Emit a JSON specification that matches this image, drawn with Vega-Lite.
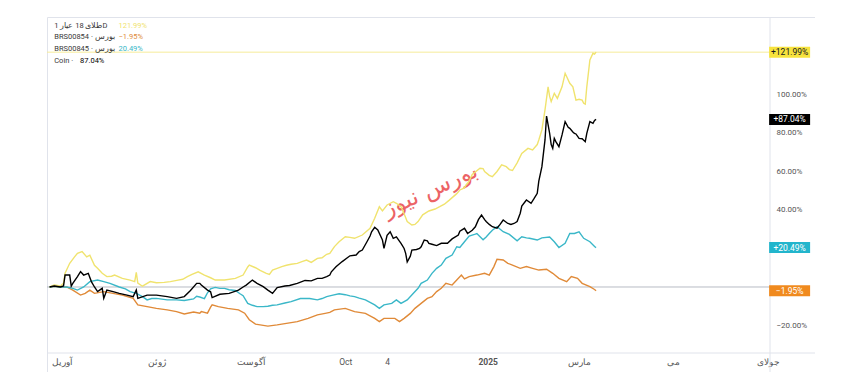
{
  "$schema": "https://vega.github.io/schema/vega-lite/v6.json",
  "width": 768,
  "height": 355,
  "autosize": {"type": "none"},
  "padding": {"left": 47, "top": 17, "right": 0, "bottom": 0},
  "background": "#ffffff",
  "config": {"view": {"stroke": "#e0e3eb", "strokeWidth": 1}, "font": "Roboto"},
  "datasets": {
    "prices": [
      {"date":"2024-03-24","key":"gold","value":0},{"date":"2024-03-27","key":"gold","value":1.0},{"date":"2024-03-31","key":"gold","value":0.5},{"date":"2024-04-02","key":"gold","value":2},{"date":"2024-04-03","key":"gold","value":7.1},{"date":"2024-04-06","key":"gold","value":12.3},{"date":"2024-04-09","key":"gold","value":15.5},{"date":"2024-04-11","key":"gold","value":17.5},{"date":"2024-04-14","key":"gold","value":18.4},{"date":"2024-04-17","key":"gold","value":15.6},{"date":"2024-04-19","key":"gold","value":16.5},{"date":"2024-04-22","key":"gold","value":11.3},{"date":"2024-04-24","key":"gold","value":9.7},{"date":"2024-04-27","key":"gold","value":7.1},{"date":"2024-04-30","key":"gold","value":5.4},{"date":"2024-05-03","key":"gold","value":5.6},{"date":"2024-05-05","key":"gold","value":6.2},{"date":"2024-05-10","key":"gold","value":4.5},{"date":"2024-05-15","key":"gold","value":3.6},{"date":"2024-05-18","key":"gold","value":2.8},{"date":"2024-05-19","key":"gold","value":7.6},{"date":"2024-05-20","key":"gold","value":2.0},{"date":"2024-05-23","key":"gold","value":0.4},{"date":"2024-05-28","key":"gold","value":2.8},{"date":"2024-06-01","key":"gold","value":2.2},{"date":"2024-06-06","key":"gold","value":2.4},{"date":"2024-06-10","key":"gold","value":2.8},{"date":"2024-06-15","key":"gold","value":3.6},{"date":"2024-06-18","key":"gold","value":4.0},{"date":"2024-06-21","key":"gold","value":5.4},{"date":"2024-06-24","key":"gold","value":6.5},{"date":"2024-06-28","key":"gold","value":7.9},{"date":"2024-07-02","key":"gold","value":6.2},{"date":"2024-07-06","key":"gold","value":4.8},{"date":"2024-07-09","key":"gold","value":3.6},{"date":"2024-07-15","key":"gold","value":3.6},{"date":"2024-07-22","key":"gold","value":4.5},{"date":"2024-07-27","key":"gold","value":6.2},{"date":"2024-07-30","key":"gold","value":10.4},{"date":"2024-07-31","key":"gold","value":11.4},{"date":"2024-08-04","key":"gold","value":10.0},{"date":"2024-08-07","key":"gold","value":8.6},{"date":"2024-08-11","key":"gold","value":7.1},{"date":"2024-08-13","key":"gold","value":6.5},{"date":"2024-08-15","key":"gold","value":8.8},{"date":"2024-08-18","key":"gold","value":9.7},{"date":"2024-08-21","key":"gold","value":10.6},{"date":"2024-08-24","key":"gold","value":11.3},{"date":"2024-08-27","key":"gold","value":11.8},{"date":"2024-08-31","key":"gold","value":12.3},{"date":"2024-09-03","key":"gold","value":13.2},{"date":"2024-09-06","key":"gold","value":14.0},{"date":"2024-09-09","key":"gold","value":12.8},{"date":"2024-09-13","key":"gold","value":14.9},{"date":"2024-09-16","key":"gold","value":15.2},{"date":"2024-09-19","key":"gold","value":17.0},{"date":"2024-09-21","key":"gold","value":17.5},{"date":"2024-09-24","key":"gold","value":21.0},{"date":"2024-09-27","key":"gold","value":23.5},{"date":"2024-10-01","key":"gold","value":26.1},{"date":"2024-10-04","key":"gold","value":25.8},{"date":"2024-10-07","key":"gold","value":25.3},{"date":"2024-10-12","key":"gold","value":27.0},{"date":"2024-10-17","key":"gold","value":30.5},{"date":"2024-10-20","key":"gold","value":35.7},{"date":"2024-10-23","key":"gold","value":41.7},{"date":"2024-10-25","key":"gold","value":39.5},{"date":"2024-10-28","key":"gold","value":42.6},{"date":"2024-11-01","key":"gold","value":44.3},{"date":"2024-11-03","key":"gold","value":43.5},{"date":"2024-11-06","key":"gold","value":41.7},{"date":"2024-11-08","key":"gold","value":38.0},{"date":"2024-11-10","key":"gold","value":34.0},{"date":"2024-11-13","key":"gold","value":32.2},{"date":"2024-11-15","key":"gold","value":32.5},{"date":"2024-11-17","key":"gold","value":34.0},{"date":"2024-11-20","key":"gold","value":37.5},{"date":"2024-11-24","key":"gold","value":39.5},{"date":"2024-11-28","key":"gold","value":40.5},{"date":"2024-12-01","key":"gold","value":41.7},{"date":"2024-12-04","key":"gold","value":43.0},{"date":"2024-12-07","key":"gold","value":45.0},{"date":"2024-12-12","key":"gold","value":48.5},{"date":"2024-12-14","key":"gold","value":50.4},{"date":"2024-12-17","key":"gold","value":51.5},{"date":"2024-12-18","key":"gold","value":53.0},{"date":"2024-12-20","key":"gold","value":55.0},{"date":"2024-12-22","key":"gold","value":58.5},{"date":"2024-12-27","key":"gold","value":61.7},{"date":"2024-12-29","key":"gold","value":61.5},{"date":"2024-12-30","key":"gold","value":60.0},{"date":"2025-01-02","key":"gold","value":58.0},{"date":"2025-01-04","key":"gold","value":57.3},{"date":"2025-01-07","key":"gold","value":60.0},{"date":"2025-01-10","key":"gold","value":63.4},{"date":"2025-01-13","key":"gold","value":62.5},{"date":"2025-01-15","key":"gold","value":61.0},{"date":"2025-01-17","key":"gold","value":60.5},{"date":"2025-01-20","key":"gold","value":64.5},{"date":"2025-01-23","key":"gold","value":69.4},{"date":"2025-01-27","key":"gold","value":72.0},{"date":"2025-01-30","key":"gold","value":71.2},{"date":"2025-02-02","key":"gold","value":74.0},{"date":"2025-02-03","key":"gold","value":76.4},{"date":"2025-02-05","key":"gold","value":81.6},{"date":"2025-02-07","key":"gold","value":92.0},{"date":"2025-02-09","key":"gold","value":104.0},{"date":"2025-02-10","key":"gold","value":99.0},{"date":"2025-02-11","key":"gold","value":96.3},{"date":"2025-02-13","key":"gold","value":100.6},{"date":"2025-02-15","key":"gold","value":98.0},{"date":"2025-02-18","key":"gold","value":104.0},{"date":"2025-02-20","key":"gold","value":111.0},{"date":"2025-02-23","key":"gold","value":105.8},{"date":"2025-02-25","key":"gold","value":104.0},{"date":"2025-02-27","key":"gold","value":97.1},{"date":"2025-03-01","key":"gold","value":97.5},{"date":"2025-03-03","key":"gold","value":97.1},{"date":"2025-03-04","key":"gold","value":95.4},{"date":"2025-03-05","key":"gold","value":95.0},{"date":"2025-03-06","key":"gold","value":104.0},{"date":"2025-03-08","key":"gold","value":117.9},{"date":"2025-03-10","key":"gold","value":121.4},{"date":"2025-03-11","key":"gold","value":121.0},{"date":"2025-03-12","key":"gold","value":121.99},

      {"date":"2024-03-24","key":"BRS00854","value":0},{"date":"2024-03-27","key":"BRS00854","value":0.3},{"date":"2024-03-31","key":"BRS00854","value":0},{"date":"2024-04-04","key":"BRS00854","value":0},{"date":"2024-04-08","key":"BRS00854","value":-1.6},{"date":"2024-04-13","key":"BRS00854","value":-4.2},{"date":"2024-04-16","key":"BRS00854","value":-3.3},{"date":"2024-04-19","key":"BRS00854","value":-1.6},{"date":"2024-04-22","key":"BRS00854","value":-3.3},{"date":"2024-04-28","key":"BRS00854","value":-2.4},{"date":"2024-05-04","key":"BRS00854","value":-3.3},{"date":"2024-05-10","key":"BRS00854","value":-4.2},{"date":"2024-05-17","key":"BRS00854","value":-5.9},{"date":"2024-05-20","key":"BRS00854","value":-9.3},{"date":"2024-05-26","key":"BRS00854","value":-10.2},{"date":"2024-06-01","key":"BRS00854","value":-11.1},{"date":"2024-06-08","key":"BRS00854","value":-11.9},{"date":"2024-06-14","key":"BRS00854","value":-12.8},{"date":"2024-06-19","key":"BRS00854","value":-14.0},{"date":"2024-06-25","key":"BRS00854","value":-13.0},{"date":"2024-06-29","key":"BRS00854","value":-13.6},{"date":"2024-06-30","key":"BRS00854","value":-12.8},{"date":"2024-07-04","key":"BRS00854","value":-13.6},{"date":"2024-07-06","key":"BRS00854","value":-10.5},{"date":"2024-07-07","key":"BRS00854","value":-9.3},{"date":"2024-07-11","key":"BRS00854","value":-10.2},{"date":"2024-07-17","key":"BRS00854","value":-11.1},{"date":"2024-07-24","key":"BRS00854","value":-11.9},{"date":"2024-07-28","key":"BRS00854","value":-13.6},{"date":"2024-07-31","key":"BRS00854","value":-17.0},{"date":"2024-08-04","key":"BRS00854","value":-19.3},{"date":"2024-08-07","key":"BRS00854","value":-19.7},{"date":"2024-08-12","key":"BRS00854","value":-20.3},{"date":"2024-08-18","key":"BRS00854","value":-19.7},{"date":"2024-08-25","key":"BRS00854","value":-18.8},{"date":"2024-08-31","key":"BRS00854","value":-18.0},{"date":"2024-09-07","key":"BRS00854","value":-16.3},{"date":"2024-09-13","key":"BRS00854","value":-14.5},{"date":"2024-09-18","key":"BRS00854","value":-13.7},{"date":"2024-09-21","key":"BRS00854","value":-13.2},{"date":"2024-09-24","key":"BRS00854","value":-11.9},{"date":"2024-10-01","key":"BRS00854","value":-11.1},{"date":"2024-10-07","key":"BRS00854","value":-12.8},{"date":"2024-10-14","key":"BRS00854","value":-13.7},{"date":"2024-10-20","key":"BRS00854","value":-16.3},{"date":"2024-10-23","key":"BRS00854","value":-18.0},{"date":"2024-10-26","key":"BRS00854","value":-16.3},{"date":"2024-11-02","key":"BRS00854","value":-16.3},{"date":"2024-11-05","key":"BRS00854","value":-18.0},{"date":"2024-11-08","key":"BRS00854","value":-16.3},{"date":"2024-11-12","key":"BRS00854","value":-13.7},{"date":"2024-11-15","key":"BRS00854","value":-11.1},{"date":"2024-11-19","key":"BRS00854","value":-8.5},{"date":"2024-11-23","key":"BRS00854","value":-5.9},{"date":"2024-11-26","key":"BRS00854","value":-5.0},{"date":"2024-11-29","key":"BRS00854","value":-2.4},{"date":"2024-12-02","key":"BRS00854","value":-0.7},{"date":"2024-12-05","key":"BRS00854","value":1.9},{"date":"2024-12-09","key":"BRS00854","value":1.0},{"date":"2024-12-12","key":"BRS00854","value":3.6},{"date":"2024-12-15","key":"BRS00854","value":6.2},{"date":"2024-12-17","key":"BRS00854","value":4.2},{"date":"2024-12-20","key":"BRS00854","value":5.4},{"date":"2024-12-25","key":"BRS00854","value":6.2},{"date":"2024-12-30","key":"BRS00854","value":7.1},{"date":"2025-01-02","key":"BRS00854","value":6.2},{"date":"2025-01-05","key":"BRS00854","value":10.6},{"date":"2025-01-07","key":"BRS00854","value":14.4},{"date":"2025-01-11","key":"BRS00854","value":14.0},{"date":"2025-01-14","key":"BRS00854","value":12.3},{"date":"2025-01-17","key":"BRS00854","value":11.4},{"date":"2025-01-22","key":"BRS00854","value":9.7},{"date":"2025-01-26","key":"BRS00854","value":10.6},{"date":"2025-01-30","key":"BRS00854","value":9.7},{"date":"2025-02-03","key":"BRS00854","value":8.8},{"date":"2025-02-08","key":"BRS00854","value":9.2},{"date":"2025-02-12","key":"BRS00854","value":7.1},{"date":"2025-02-16","key":"BRS00854","value":4.5},{"date":"2025-02-21","key":"BRS00854","value":2.8},{"date":"2025-02-24","key":"BRS00854","value":5.4},{"date":"2025-02-28","key":"BRS00854","value":4.5},{"date":"2025-03-03","key":"BRS00854","value":1.9},{"date":"2025-03-08","key":"BRS00854","value":0.2},{"date":"2025-03-11","key":"BRS00854","value":-1.3},{"date":"2025-03-12","key":"BRS00854","value":-1.95},

      {"date":"2024-03-24","key":"BRS00845","value":0},{"date":"2024-03-27","key":"BRS00845","value":0.3},{"date":"2024-03-31","key":"BRS00845","value":0},{"date":"2024-04-04","key":"BRS00845","value":0},{"date":"2024-04-08","key":"BRS00845","value":-0.7},{"date":"2024-04-11","key":"BRS00845","value":-1.6},{"date":"2024-04-15","key":"BRS00845","value":0},{"date":"2024-04-19","key":"BRS00845","value":2.8},{"date":"2024-04-24","key":"BRS00845","value":3.6},{"date":"2024-04-28","key":"BRS00845","value":2.8},{"date":"2024-05-02","key":"BRS00845","value":1.9},{"date":"2024-05-08","key":"BRS00845","value":0},{"date":"2024-05-12","key":"BRS00845","value":-1.0},{"date":"2024-05-15","key":"BRS00845","value":-2.4},{"date":"2024-05-19","key":"BRS00845","value":-3.3},{"date":"2024-05-23","key":"BRS00845","value":-5.0},{"date":"2024-05-26","key":"BRS00845","value":-6.7},{"date":"2024-05-29","key":"BRS00845","value":-6.0},{"date":"2024-06-01","key":"BRS00845","value":-5.9},{"date":"2024-06-08","key":"BRS00845","value":-6.7},{"date":"2024-06-14","key":"BRS00845","value":-6.7},{"date":"2024-06-19","key":"BRS00845","value":-7.0},{"date":"2024-06-25","key":"BRS00845","value":-6.2},{"date":"2024-06-27","key":"BRS00845","value":-4.8},{"date":"2024-06-29","key":"BRS00845","value":-5.2},{"date":"2024-07-02","key":"BRS00845","value":-6.0},{"date":"2024-07-04","key":"BRS00845","value":-3.0},{"date":"2024-07-06","key":"BRS00845","value":-1.0},{"date":"2024-07-09","key":"BRS00845","value":-0.2},{"date":"2024-07-12","key":"BRS00845","value":-0.7},{"date":"2024-07-15","key":"BRS00845","value":-0.7},{"date":"2024-07-18","key":"BRS00845","value":-1.4},{"date":"2024-07-22","key":"BRS00845","value":-1.8},{"date":"2024-07-25","key":"BRS00845","value":-3.5},{"date":"2024-07-27","key":"BRS00845","value":-4.5},{"date":"2024-07-30","key":"BRS00845","value":-8.5},{"date":"2024-08-02","key":"BRS00845","value":-9.5},{"date":"2024-08-05","key":"BRS00845","value":-10.2},{"date":"2024-08-09","key":"BRS00845","value":-10.2},{"date":"2024-08-12","key":"BRS00845","value":-10.0},{"date":"2024-08-15","key":"BRS00845","value":-9.5},{"date":"2024-08-18","key":"BRS00845","value":-9.3},{"date":"2024-08-23","key":"BRS00845","value":-8.3},{"date":"2024-08-27","key":"BRS00845","value":-7.6},{"date":"2024-09-02","key":"BRS00845","value":-6.0},{"date":"2024-09-05","key":"BRS00845","value":-5.9},{"date":"2024-09-08","key":"BRS00845","value":-6.0},{"date":"2024-09-13","key":"BRS00845","value":-6.7},{"date":"2024-09-16","key":"BRS00845","value":-6.0},{"date":"2024-09-19","key":"BRS00845","value":-5.0},{"date":"2024-09-23","key":"BRS00845","value":-4.2},{"date":"2024-09-27","key":"BRS00845","value":-3.5},{"date":"2024-10-01","key":"BRS00845","value":-4.0},{"date":"2024-10-04","key":"BRS00845","value":-4.6},{"date":"2024-10-07","key":"BRS00845","value":-5.0},{"date":"2024-10-10","key":"BRS00845","value":-5.8},{"date":"2024-10-14","key":"BRS00845","value":-6.7},{"date":"2024-10-17","key":"BRS00845","value":-8.0},{"date":"2024-10-20","key":"BRS00845","value":-9.3},{"date":"2024-10-23","key":"BRS00845","value":-11.1},{"date":"2024-10-26","key":"BRS00845","value":-9.3},{"date":"2024-10-31","key":"BRS00845","value":-8.5},{"date":"2024-11-03","key":"BRS00845","value":-6.7},{"date":"2024-11-06","key":"BRS00845","value":-8.5},{"date":"2024-11-10","key":"BRS00845","value":-6.7},{"date":"2024-11-14","key":"BRS00845","value":-3.3},{"date":"2024-11-17","key":"BRS00845","value":-0.7},{"date":"2024-11-19","key":"BRS00845","value":1.9},{"date":"2024-11-23","key":"BRS00845","value":3.6},{"date":"2024-11-26","key":"BRS00845","value":7.1},{"date":"2024-11-29","key":"BRS00845","value":9.7},{"date":"2024-12-02","key":"BRS00845","value":11.4},{"date":"2024-12-05","key":"BRS00845","value":14.9},{"date":"2024-12-09","key":"BRS00845","value":16.6},{"date":"2024-12-12","key":"BRS00845","value":20.9},{"date":"2024-12-14","key":"BRS00845","value":20.5},{"date":"2024-12-17","key":"BRS00845","value":23.5},{"date":"2024-12-20","key":"BRS00845","value":26.5},{"date":"2024-12-24","key":"BRS00845","value":27.5},{"date":"2024-12-25","key":"BRS00845","value":27.8},{"date":"2024-12-29","key":"BRS00845","value":24.5},{"date":"2024-12-31","key":"BRS00845","value":26.0},{"date":"2025-01-02","key":"BRS00845","value":27.8},{"date":"2025-01-04","key":"BRS00845","value":29.5},{"date":"2025-01-07","key":"BRS00845","value":31.3},{"date":"2025-01-11","key":"BRS00845","value":28.7},{"date":"2025-01-15","key":"BRS00845","value":27.3},{"date":"2025-01-20","key":"BRS00845","value":24.0},{"date":"2025-01-23","key":"BRS00845","value":26.1},{"date":"2025-01-26","key":"BRS00845","value":25.5},{"date":"2025-01-28","key":"BRS00845","value":25.3},{"date":"2025-02-02","key":"BRS00845","value":24.4},{"date":"2025-02-05","key":"BRS00845","value":25.5},{"date":"2025-02-10","key":"BRS00845","value":26.0},{"date":"2025-02-13","key":"BRS00845","value":23.5},{"date":"2025-02-16","key":"BRS00845","value":20.5},{"date":"2025-02-20","key":"BRS00845","value":22.7},{"date":"2025-02-23","key":"BRS00845","value":27.8},{"date":"2025-02-26","key":"BRS00845","value":27.8},{"date":"2025-03-01","key":"BRS00845","value":28.7},{"date":"2025-03-04","key":"BRS00845","value":25.3},{"date":"2025-03-08","key":"BRS00845","value":23.5},{"date":"2025-03-11","key":"BRS00845","value":21.0},{"date":"2025-03-12","key":"BRS00845","value":20.49},

      {"date":"2024-03-24","key":"Coin","value":0},{"date":"2024-03-27","key":"Coin","value":0.5},{"date":"2024-03-31","key":"Coin","value":0},{"date":"2024-04-02","key":"Coin","value":0.5},{"date":"2024-04-03","key":"Coin","value":6.2},{"date":"2024-04-06","key":"Coin","value":6.2},{"date":"2024-04-07","key":"Coin","value":0.5},{"date":"2024-04-08","key":"Coin","value":1.9},{"date":"2024-04-11","key":"Coin","value":5.4},{"date":"2024-04-13","key":"Coin","value":8.0},{"date":"2024-04-15","key":"Coin","value":6.2},{"date":"2024-04-18","key":"Coin","value":7.1},{"date":"2024-04-20","key":"Coin","value":2.8},{"date":"2024-04-22","key":"Coin","value":0},{"date":"2024-04-24","key":"Coin","value":-2.4},{"date":"2024-04-27","key":"Coin","value":-0.7},{"date":"2024-04-28","key":"Coin","value":-5.9},{"date":"2024-04-30","key":"Coin","value":-1.6},{"date":"2024-05-04","key":"Coin","value":-2.4},{"date":"2024-05-08","key":"Coin","value":-3.3},{"date":"2024-05-13","key":"Coin","value":-4.2},{"date":"2024-05-17","key":"Coin","value":-5.0},{"date":"2024-05-19","key":"Coin","value":-1.6},{"date":"2024-05-20","key":"Coin","value":-5.9},{"date":"2024-05-26","key":"Coin","value":-4.2},{"date":"2024-06-01","key":"Coin","value":-4.2},{"date":"2024-06-08","key":"Coin","value":-5.0},{"date":"2024-06-14","key":"Coin","value":-5.9},{"date":"2024-06-19","key":"Coin","value":-5.0},{"date":"2024-06-23","key":"Coin","value":-1.8},{"date":"2024-06-27","key":"Coin","value":1.9},{"date":"2024-06-29","key":"Coin","value":1.9},{"date":"2024-06-30","key":"Coin","value":1.0},{"date":"2024-07-04","key":"Coin","value":-1.6},{"date":"2024-07-06","key":"Coin","value":-2.5},{"date":"2024-07-07","key":"Coin","value":-5.5},{"date":"2024-07-12","key":"Coin","value":-3.8},{"date":"2024-07-18","key":"Coin","value":-3.3},{"date":"2024-07-24","key":"Coin","value":-1.6},{"date":"2024-07-27","key":"Coin","value":0},{"date":"2024-07-29","key":"Coin","value":1.0},{"date":"2024-08-02","key":"Coin","value":3.6},{"date":"2024-08-05","key":"Coin","value":1.9},{"date":"2024-08-09","key":"Coin","value":0.2},{"date":"2024-08-12","key":"Coin","value":-1.6},{"date":"2024-08-15","key":"Coin","value":-3.3},{"date":"2024-08-18","key":"Coin","value":-0.3},{"date":"2024-08-23","key":"Coin","value":0.5},{"date":"2024-08-26","key":"Coin","value":0.8},{"date":"2024-08-31","key":"Coin","value":1.9},{"date":"2024-09-05","key":"Coin","value":3.4},{"date":"2024-09-09","key":"Coin","value":3.2},{"date":"2024-09-13","key":"Coin","value":4.5},{"date":"2024-09-16","key":"Coin","value":4.5},{"date":"2024-09-19","key":"Coin","value":5.4},{"date":"2024-09-21","key":"Coin","value":6.2},{"date":"2024-09-22","key":"Coin","value":7.9},{"date":"2024-09-25","key":"Coin","value":10.5},{"date":"2024-09-29","key":"Coin","value":13.2},{"date":"2024-10-04","key":"Coin","value":16.2},{"date":"2024-10-08","key":"Coin","value":16.6},{"date":"2024-10-10","key":"Coin","value":18.4},{"date":"2024-10-12","key":"Coin","value":19.2},{"date":"2024-10-15","key":"Coin","value":23.5},{"date":"2024-10-17","key":"Coin","value":26.5},{"date":"2024-10-18","key":"Coin","value":28.7},{"date":"2024-10-20","key":"Coin","value":31.0},{"date":"2024-10-22","key":"Coin","value":29.6},{"date":"2024-10-25","key":"Coin","value":24.4},{"date":"2024-10-26","key":"Coin","value":20.1},{"date":"2024-10-28","key":"Coin","value":26.8},{"date":"2024-10-30","key":"Coin","value":28.7},{"date":"2024-11-01","key":"Coin","value":25.3},{"date":"2024-11-03","key":"Coin","value":26.0},{"date":"2024-11-06","key":"Coin","value":22.7},{"date":"2024-11-08","key":"Coin","value":20.0},{"date":"2024-11-09","key":"Coin","value":17.5},{"date":"2024-11-10","key":"Coin","value":13.0},{"date":"2024-11-12","key":"Coin","value":16.0},{"date":"2024-11-13","key":"Coin","value":19.2},{"date":"2024-11-16","key":"Coin","value":19.5},{"date":"2024-11-18","key":"Coin","value":20.1},{"date":"2024-11-19","key":"Coin","value":20.9},{"date":"2024-11-21","key":"Coin","value":24.4},{"date":"2024-11-23","key":"Coin","value":24.0},{"date":"2024-11-24","key":"Coin","value":22.7},{"date":"2024-11-26","key":"Coin","value":22.2},{"date":"2024-11-29","key":"Coin","value":21.5},{"date":"2024-12-02","key":"Coin","value":22.7},{"date":"2024-12-06","key":"Coin","value":22.7},{"date":"2024-12-09","key":"Coin","value":25.0},{"date":"2024-12-13","key":"Coin","value":27.0},{"date":"2024-12-14","key":"Coin","value":29.0},{"date":"2024-12-17","key":"Coin","value":30.5},{"date":"2024-12-19","key":"Coin","value":27.8},{"date":"2024-12-22","key":"Coin","value":29.5},{"date":"2024-12-24","key":"Coin","value":31.3},{"date":"2024-12-26","key":"Coin","value":35.0},{"date":"2024-12-28","key":"Coin","value":37.4},{"date":"2024-12-30","key":"Coin","value":35.0},{"date":"2024-12-31","key":"Coin","value":34.0},{"date":"2025-01-02","key":"Coin","value":32.5},{"date":"2025-01-04","key":"Coin","value":31.3},{"date":"2025-01-07","key":"Coin","value":30.5},{"date":"2025-01-09","key":"Coin","value":32.5},{"date":"2025-01-11","key":"Coin","value":34.8},{"date":"2025-01-14","key":"Coin","value":33.0},{"date":"2025-01-16","key":"Coin","value":32.5},{"date":"2025-01-18","key":"Coin","value":33.0},{"date":"2025-01-20","key":"Coin","value":34.0},{"date":"2025-01-22","key":"Coin","value":38.3},{"date":"2025-01-23","key":"Coin","value":42.0},{"date":"2025-01-26","key":"Coin","value":45.2},{"date":"2025-01-29","key":"Coin","value":43.5},{"date":"2025-01-31","key":"Coin","value":46.0},{"date":"2025-02-02","key":"Coin","value":48.7},{"date":"2025-02-03","key":"Coin","value":55.0},{"date":"2025-02-05","key":"Coin","value":62.5},{"date":"2025-02-07","key":"Coin","value":76.4},{"date":"2025-02-08","key":"Coin","value":88.8},{"date":"2025-02-10","key":"Coin","value":79.8},{"date":"2025-02-11","key":"Coin","value":74.0},{"date":"2025-02-12","key":"Coin","value":72.0},{"date":"2025-02-13","key":"Coin","value":77.2},{"date":"2025-02-14","key":"Coin","value":75.5},{"date":"2025-02-16","key":"Coin","value":72.9},{"date":"2025-02-18","key":"Coin","value":79.0},{"date":"2025-02-20","key":"Coin","value":85.9},{"date":"2025-02-22","key":"Coin","value":83.0},{"date":"2025-02-23","key":"Coin","value":82.4},{"date":"2025-02-25","key":"Coin","value":80.5},{"date":"2025-02-26","key":"Coin","value":79.8},{"date":"2025-02-27","key":"Coin","value":79.5},{"date":"2025-03-01","key":"Coin","value":77.2},{"date":"2025-03-03","key":"Coin","value":77.0},{"date":"2025-03-05","key":"Coin","value":75.5},{"date":"2025-03-06","key":"Coin","value":79.8},{"date":"2025-03-08","key":"Coin","value":85.9},{"date":"2025-03-10","key":"Coin","value":85.0},{"date":"2025-03-11","key":"Coin","value":86.5},{"date":"2025-03-12","key":"Coin","value":87.04}
    ],
    "badges": [
      {"key":"gold","value":121.99,"label":"+121.99%"},
      {"key":"Coin","value":87.04,"label":"+87.04%"},
      {"key":"BRS00845","value":20.49,"label":"+20.49%"},
      {"key":"BRS00854","value":-1.95,"label":"−1.95%"}
    ],
    "legend": [
      {"row":0,"key":"gold","name":"طلای 18 عیار 1D","val":"121.99%"},
      {"row":1,"key":"BRS00854","name":"BRS00854 · بورس","val":"−1.95%"},
      {"row":2,"key":"BRS00845","name":"BRS00845 · بورس","val":"20.49%"},
      {"row":3,"key":"Coin","name":"Coin ·","val":"87.04%"}
    ]
  },
  "layer": [
    {
      "data": {"values": [{"label": "بورس نیوز"}]},
      "mark": {"type": "text", "font": "DejaVu Sans", "fontSize": 23, "angle": -24, "color": "#e9484b", "opacity": 0.85, "align": "center", "baseline": "middle"},
      "encoding": {
        "x": {"datum": {"year": 2024, "month": 11, "date": 25, "utc": true}, "type": "temporal"},
        "y": {"datum": 50.4, "type": "quantitative"},
        "text": {"field": "label"}
      }
    },
    {
      "data": {"values": [{}]},
      "mark": {"type": "rule", "color": "#e0e3eb", "strokeWidth": 1},
      "encoding": {"y": {"datum": -34.29, "type": "quantitative"}}
    },
    {
      "data": {"values": [{}]},
      "mark": {"type": "rule", "color": "#e0e3eb", "strokeWidth": 1},
      "encoding": {"x": {"datum": {"year": 2025, "month": 7, "date": 2, "hours": 8, "utc": true}, "type": "temporal"}}
    },
    {
      "data": {"values": [{}]},
      "mark": {"type": "rule", "color": "#b8bbc4", "strokeWidth": 1},
      "encoding": {
        "x": {"datum": {"year": 2024, "month": 3, "date": 22, "hours": 8, "utc": true}, "type": "temporal"},
        "x2": {"datum": {"year": 2025, "month": 7, "date": 2, "hours": 8, "utc": true}},
        "y": {"datum": 0, "type": "quantitative"}
      }
    },
    {
      "data": {"values": [{}]},
      "mark": {"type": "rule", "color": "#f6ec9a", "strokeWidth": 1},
      "encoding": {
        "x": {"datum": {"year": 2024, "month": 3, "date": 22, "hours": 8, "utc": true}, "type": "temporal"},
        "x2": {"datum": {"year": 2025, "month": 7, "date": 2, "hours": 8, "utc": true}},
        "y": {"datum": 121.99, "type": "quantitative"}
      }
    },
    {
      "data": {"name": "prices"},
      "mark": {"type": "line", "strokeWidth": 1.4, "interpolate": "linear"},
      "encoding": {
        "x": {
          "field": "date", "type": "temporal",
          "scale": {"domain": [{"year": 2024, "month": 3, "date": 22, "hours": 8, "utc": true}, {"year": 2025, "month": 7, "date": 2, "hours": 8, "utc": true}], "range": [0, 723]},
          "axis": {
            "orient": "bottom", "offset": -19, "title": null, "domain": false, "ticks": false, "grid": false,
            "values": [
              {"year": 2024, "month": 4, "date": 1, "utc": true},
              {"year": 2024, "month": 6, "date": 1, "utc": true},
              {"year": 2024, "month": 8, "date": 1, "utc": true},
              {"year": 2024, "month": 10, "date": 1, "utc": true},
              {"year": 2024, "month": 10, "date": 28, "utc": true},
              {"year": 2025, "month": 1, "date": 1, "utc": true},
              {"year": 2025, "month": 3, "date": 1, "utc": true},
              {"year": 2025, "month": 5, "date": 1, "utc": true},
              {"year": 2025, "month": 7, "date": 1, "utc": true}
            ],
            "labelExpr": "utcdate(datum.value) != 1 ? '4' : utcmonth(datum.value) == 0 ? '2025' : utcmonth(datum.value) == 2 ? 'مارس' : utcmonth(datum.value) == 3 ? 'آوریل' : utcmonth(datum.value) == 4 ? 'می' : utcmonth(datum.value) == 5 ? 'ژوئن' : utcmonth(datum.value) == 6 ? 'جولای' : utcmonth(datum.value) == 7 ? 'آگوست' : 'Oct'",
            "labelFontWeight": {"condition": {"test": "utcmonth(datum.value) == 0 && utcdate(datum.value) == 1", "value": "bold"}, "value": "normal"},
            "labelFontSize": 8.5, "labelColor": "#555555", "labelPadding": 4, "labelFlush": false, "labelOverlap": false, "labelFont": "Roboto"
          }
        },
        "y": {
          "field": "value", "type": "quantitative",
          "scale": {"domain": [-34.29, 140.26], "range": [336, 0], "nice": false, "zero": false},
          "axis": {
            "orient": "right", "offset": -45, "title": null, "domain": false, "ticks": false, "grid": false,
            "values": [-20, 40, 60, 80, 100],
            "labelExpr": "format(datum.value, '.2f') + '%'",
            "labelAlign": "left", "labelBaseline": "middle", "labelPadding": 6,
            "labelFontSize": 8, "labelColor": "#555555", "labelFont": "Roboto"
          }
        },
        "color": {
          "field": "key", "type": "nominal",
          "scale": {"domain": ["gold", "BRS00854", "BRS00845", "Coin"], "range": ["#f0e36e", "#e08a38", "#3ab7c8", "#000000"]},
          "legend": null
        }
      }
    },
    {
      "data": {"name": "legend"},
      "transform": [
        {"calculate": "135.7 - datum.row * 6.06", "as": "ly"}
      ],
      "mark": {"type": "text", "align": "left", "baseline": "middle", "fontSize": 7.5, "font": "Roboto", "color": "#3a3a3a"},
      "encoding": {
        "x": {"datum": {"year": 2024, "month": 3, "date": 27, "utc": true}, "type": "temporal"},
        "y": {"field": "ly", "type": "quantitative"},
        "text": {"field": "name"}
      }
    },
    {
      "data": {"name": "legend"},
      "transform": [
        {"filter": "datum.row < 3"},
        {"calculate": "135.7 - datum.row * 6.06", "as": "ly"}
      ],
      "mark": {"type": "text", "align": "left", "baseline": "middle", "fontSize": 7.5, "font": "Roboto"},
      "encoding": {
        "x": {"datum": {"year": 2024, "month": 5, "date": 7, "hours": 12, "utc": true}, "type": "temporal"},
        "y": {"field": "ly", "type": "quantitative"},
        "text": {"field": "val"},
        "color": {"field": "key", "type": "nominal", "legend": null}
      }
    },
    {
      "data": {"name": "legend"},
      "transform": [
        {"filter": "datum.row == 3"},
        {"calculate": "135.7 - datum.row * 6.06", "as": "ly"}
      ],
      "mark": {"type": "text", "align": "left", "baseline": "middle", "fontSize": 7.5, "font": "Roboto"},
      "encoding": {
        "x": {"datum": {"year": 2024, "month": 4, "date": 12, "hours": 16, "utc": true}, "type": "temporal"},
        "y": {"field": "ly", "type": "quantitative"},
        "text": {"field": "val"},
        "color": {"field": "key", "type": "nominal", "legend": null}
      }
    },
    {
      "data": {"name": "badges"},
      "mark": {"type": "point", "shape": "M-1,-0.27H1V0.27H-1Z", "filled": true, "size": 1681, "opacity": 1, "strokeWidth": 0},
      "encoding": {
        "x": {"datum": {"year": 2025, "month": 7, "date": 15, "utc": true}, "type": "temporal"},
        "y": {"field": "value", "type": "quantitative"},
        "fill": {
          "field": "key", "type": "nominal",
          "scale": {"domain": ["gold", "BRS00854", "BRS00845", "Coin"], "range": ["#f7e33d", "#f08a1e", "#22b5cc", "#000000"]},
          "legend": null
        }
      }
    },
    {
      "data": {"name": "badges"},
      "mark": {"type": "text", "align": "center", "baseline": "middle", "fontSize": 8.5, "font": "Roboto"},
      "encoding": {
        "x": {"datum": {"year": 2025, "month": 7, "date": 15, "utc": true}, "type": "temporal"},
        "y": {"field": "value", "type": "quantitative"},
        "text": {"field": "label"},
        "color": {"condition": {"test": "datum.key == 'gold'", "value": "#131722"}, "value": "#ffffff"}
      }
    }
  ]
}
